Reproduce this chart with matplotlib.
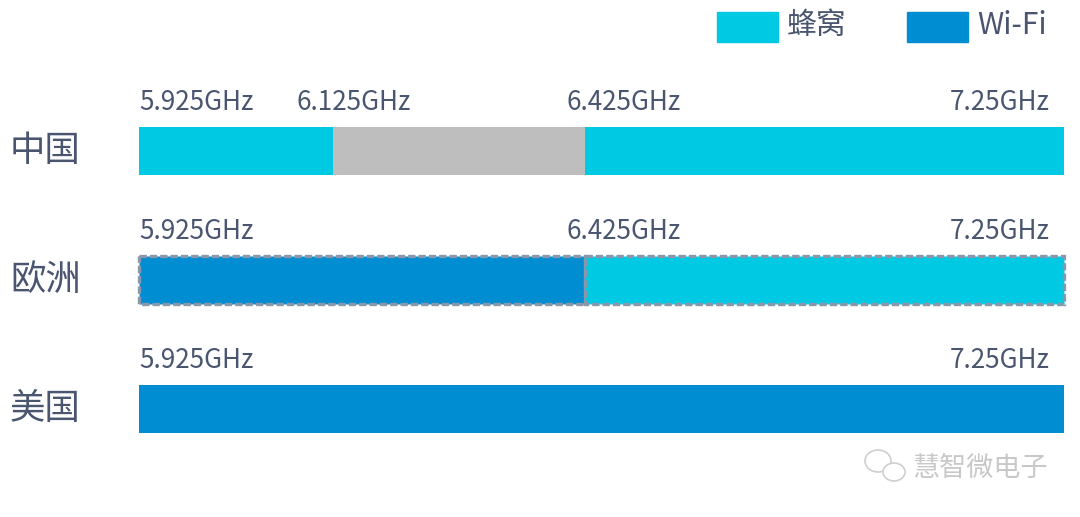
import numpy as np
import matplotlib
matplotlib.use("Agg")
import matplotlib.pyplot as plt
from matplotlib.patches import Rectangle, Ellipse

plt.rcParams['font.family'] = ['Noto Sans CJK SC', 'DejaVu Sans']

# ---- data ----
regions = ['中国', '欧洲', '美国']
china_starts = [5.925, 6.125, 6.425]
china_ends = [6.125, 6.425, 7.25]
china_types = ['蜂窝', '未分配', '蜂窝']
europe_starts = [5.925, 6.425]
europe_ends = [6.425, 7.25]
europe_types = ['Wi-Fi', '蜂窝']
us_starts = [5.925]
us_ends = [7.25]
us_types = ['Wi-Fi']
china_ticks = ['5.925GHz', '6.125GHz', '6.425GHz', '7.25GHz']
europe_ticks = ['5.925GHz', '6.425GHz', '7.25GHz']
us_ticks = ['5.925GHz', '7.25GHz']
legend_labels = ['蜂窝', 'Wi-Fi']

# ---- style ----
colors = {'蜂窝': '#00C9E4', 'Wi-Fi': '#008DD1', '未分配': '#BEBEBE'}
text_color = '#4A5670'
# horizontal label offsets (points) per boundary frequency
label_dx = {5.925: 0, 6.125: -26.5, 6.425: -13, 7.25: -10}
# display is not linear in frequency: piecewise-linear scale
knot_freq = [5.925, 6.125, 6.425, 7.25]
knot_pos = [0.0, 0.2097, 0.4822, 1.0]

def fwd(x):
    return np.interp(x, knot_freq, knot_pos)

def inv(y):
    return np.interp(y, knot_pos, knot_freq)

W, H = 1080, 517
fig = plt.figure(figsize=(W / 100, H / 100), dpi=100)
ax = fig.add_axes([139 / W, 0, (1064 - 139) / W, 1])
ax.set_xscale('function', functions=(fwd, inv))
ax.set_xlim(5.925, 7.25)
ax.set_ylim(2.837, -1.17)
ax.axis('off')

rows = [
    (china_starts, china_ends, china_types, china_ticks, False),
    (europe_starts, europe_ends, europe_types, europe_ticks, True),
    (us_starts, us_ends, us_types, us_ticks, False),
]
bar_h = 0.372
for i, (starts, ends, types, ticks, dashed) in enumerate(rows):
    widths = [e - s for s, e in zip(starts, ends)]
    cols = [colors[t] for t in types]
    if dashed:
        bars = ax.barh(i, widths, left=starts, height=bar_h, color=cols,
                       edgecolor='#8A96AA', linestyle=(0, (2.2, 0.9)),
                       linewidth=2.4)
        for b in bars:
            b.set_clip_on(False)
    else:
        ax.barh(i, widths, left=starts, height=bar_h, color=cols, linewidth=0)
    bounds = sorted(set(starts) | set(ends))
    for j, (b, lab) in enumerate(zip(bounds, ticks)):
        ha = 'right' if j == len(bounds) - 1 else 'left'
        ax.annotate(lab, xy=(b, i - bar_h / 2), xytext=(label_dx[b], 8),
                    textcoords='offset points', ha=ha, va='bottom',
                    fontsize=18.8, color=text_color)
    ax.text(-129 / (1064 - 139), i, regions[i],
            transform=ax.get_yaxis_transform(), ha='left', va='center',
            fontsize=25.5, color=text_color)

# legend
for lab, x0 in zip(legend_labels, [717, 907]):
    fig.patches.append(Rectangle((x0 / W, 1 - 42 / H), 61 / W, 30 / H,
                                 transform=fig.transFigure, color=colors[lab]))
    fig.text((x0 + 70) / W, 1 - 26 / H, lab, ha='left', va='center',
             fontsize=21.5, color=text_color)

# watermark
fig.text(912 / W, 1 - 468 / H, '慧智微电子', ha='left', va='center',
         fontsize=19.5, color='#C8C8C8')
for cx, cy, w, h in [(878, 461, 26, 22), (894, 472, 22, 18)]:
    fig.patches.append(Ellipse((cx / W, 1 - cy / H), w / W, h / H,
                               transform=fig.transFigure, fill=True,
                               facecolor='white', edgecolor='#CFCFCF', linewidth=1.2))

fig.savefig('out.png', dpi=100)
